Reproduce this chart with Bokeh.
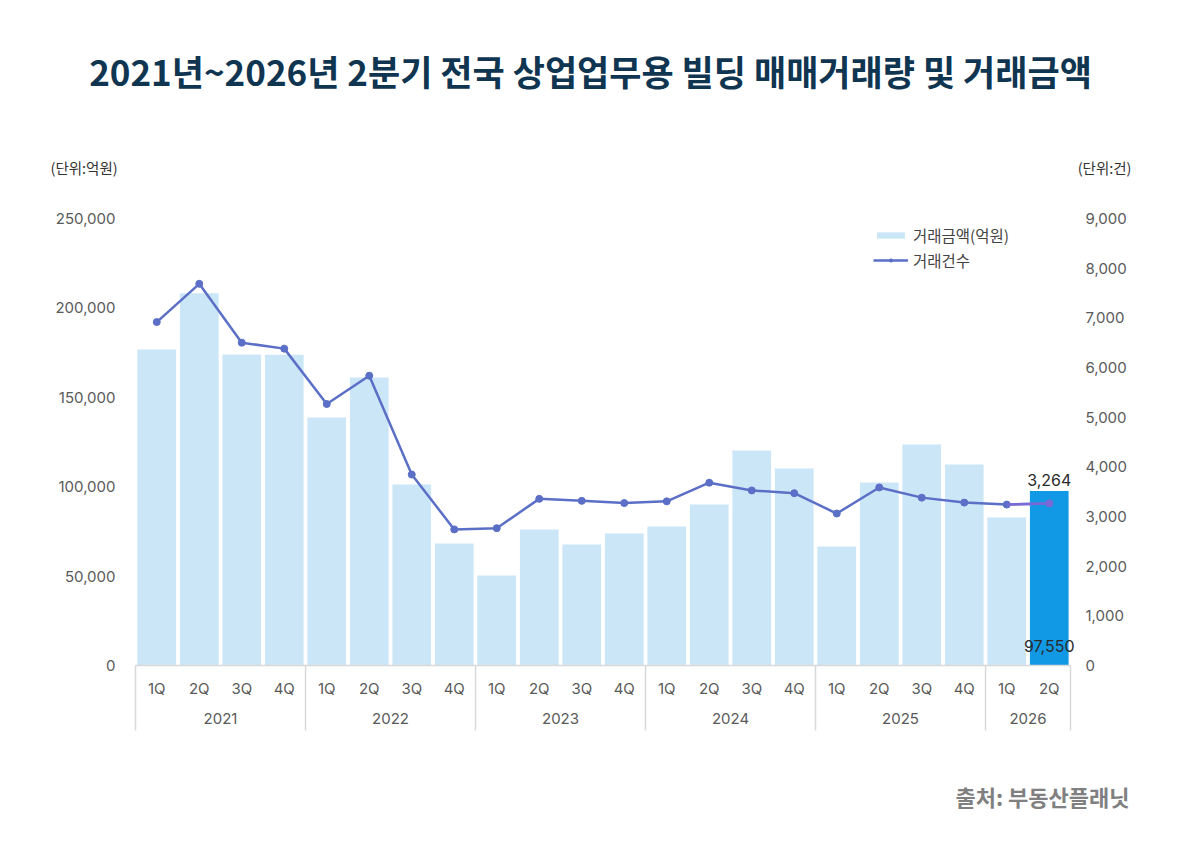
from bokeh.plotting import figure
from bokeh.layouts import column
from bokeh.models import (FactorRange, Range1d, LinearAxis, FixedTicker, NumeralTickFormatter,
                          Legend, LegendItem, ColumnDataSource)
from bokeh.core.properties import value
from bokeh.embed import file_html
from bokeh.resources import INLINE

# ---------------- data ----------------
years = ["2021", "2022", "2023", "2024", "2025", "2026"]
quarters = [["1Q", "2Q", "3Q", "4Q"]] * 5 + [["1Q", "2Q"]]
amount = [176700, 208200, 173900, 173800,
          138700, 161100, 101200, 68200,
          50300, 76000, 67700, 73800,
          77700, 90000, 120200, 110200,
          66600, 102300, 123600, 112400,
          82800, 97550]
count = [6915, 7685, 6500, 6380,
         5265, 5835, 3845, 2740,
         2765, 3355, 3315, 3270,
         3305, 3680, 3525, 3470,
         3060, 3585, 3380, 3280,
         3240, 3264]
amount_ticks = [0, 50000, 100000, 150000, 200000, 250000]
count_ticks = [0, 1000, 2000, 3000, 4000, 5000, 6000, 7000, 8000, 9000]
title_text = "2021년~2026년 2분기 전국 상업업무용 빌딩 매매거래량 및 거래금액"
amount_name = "거래금액(억원)"
count_name = "거래건수"
left_unit = "(단위:억원)"
right_unit = "(단위:건)"
source_text = "출처: 부동산플래닛"

# ---------------- layout (page pixels) ----------------
W = 1192
HEADER_H = 185
FOOTER_H = 80
BAR_LEFT, BAR_RIGHT = 135, 1070       # first / last category edges
PAD = 8                                # extra frame beyond the bars
FRAME_TOP, FRAME_BOTTOM = 200, 740
ZERO_Y, TOP_TICK_Y = 665, 218

KR = "Noto Sans CJK KR"
NUM = "Inter"
LIGHT = "#cbe6f7"
HILITE = "#1199e6"
LINE = "#5b6fc7"
LAST = "#7a6ad8"
TICK_COL = "#5a5a5a"
SEP_COL = "#d9d9d9"

factors = [(y, q) for y, qs in zip(years, quarters) for q in qs]
colors = [LIGHT] * (len(factors) - 1) + [HILITE]
cat_px = (BAR_RIGHT - BAR_LEFT) / len(factors)

left_ppu = (ZERO_Y - TOP_TICK_Y) / amount_ticks[-1]
right_ppu = (ZERO_Y - TOP_TICK_Y) / count_ticks[-1]


def blank_fig(h):
    f = figure(width=W, height=h, x_range=Range1d(0, W), y_range=Range1d(h, 0),
               min_border=0, x_axis_location=None, y_axis_location=None,
               output_backend="svg", toolbar_location=None, outline_line_color=None,
               background_fill_color="white", border_fill_color="white",
               frame_align=False)
    f.grid.visible = False
    return f


# ---------------- header ----------------
header = blank_fig(HEADER_H)
header.text(x=[590], y=[70], text=[title_text], text_align="center", text_baseline="middle",
            text_font=value(KR), text_font_size="35px", text_font_style="bold",
            text_color="#0f3551")
header.text(x=[50], y=[167], text=[left_unit], text_align="left", text_baseline="middle",
            text_font=value(KR), text_font_size="14.5px", text_color="#333333")
header.text(x=[1131], y=[167], text=[right_unit], text_align="right", text_baseline="middle",
            text_font=value(KR), text_font_size="14.5px", text_color="#333333")

# ---------------- main chart ----------------
frame_left = BAR_LEFT - PAD
frame_w = BAR_RIGHT - BAR_LEFT + 2 * PAD
p = figure(
    x_range=FactorRange(*factors, range_padding=PAD / cat_px, range_padding_units="absolute",
                        group_padding=0, factor_padding=0),
    y_range=Range1d(-(FRAME_BOTTOM - ZERO_Y) / left_ppu, (ZERO_Y - FRAME_TOP) / left_ppu),
    frame_width=frame_w,
    frame_height=FRAME_BOTTOM - FRAME_TOP,
    min_border_left=frame_left,
    min_border_right=W - frame_left - frame_w,
    min_border_top=FRAME_TOP - HEADER_H,
    min_border_bottom=30,
    x_axis_location=None,
    output_backend="svg",
    toolbar_location=None,
    outline_line_color=None,
    background_fill_color="white",
    border_fill_color="white",
    frame_align=False,
)
p.grid.visible = False

p.extra_y_ranges = {
    "count": Range1d(-(FRAME_BOTTOM - ZERO_Y) / right_ppu, (ZERO_Y - FRAME_TOP) / right_ppu),
    "px": Range1d(-(FRAME_BOTTOM - ZERO_Y), ZERO_Y - FRAME_TOP),
}

ya = p.yaxis[0]
ya.ticker = FixedTicker(ticks=amount_ticks)
ya.formatter = NumeralTickFormatter(format="0,0")

ra = LinearAxis(y_range_name="count", ticker=FixedTicker(ticks=count_ticks),
                formatter=NumeralTickFormatter(format="0,0"))
p.add_layout(ra, "right")

for ax, standoff in ((ya, 20 - PAD), (ra, 15 - PAD)):
    ax.axis_line_color = None
    ax.major_tick_line_color = None
    ax.minor_tick_line_color = None
    ax.major_tick_out = 0
    ax.major_tick_in = 0
    ax.minor_tick_out = 0
    ax.major_label_standoff = standoff
    ax.major_label_text_font = NUM
    ax.major_label_text_font_size = "15px"
    ax.major_label_text_color = TICK_COL

src = ColumnDataSource(dict(x=factors, amount=amount, count=count, color=colors))

bars = p.vbar(x="x", top="amount", bottom=0, width=0.91, source=src,
              fill_color="color", line_color=None)

line = p.line(x="x", y="count", source=src, y_range_name="count",
              line_color=LINE, line_width=2.5)
dots = p.scatter(x="x", y="count", source=src, y_range_name="count",
                 size=7, fill_color=LINE, line_color=LINE)
p.line(x=factors[-2:], y=count[-2:], y_range_name="count", line_color=LAST, line_width=2.5)
p.scatter(x=factors[-1:], y=count[-1:], y_range_name="count", size=7,
          fill_color=LAST, line_color=LAST)

# baseline and category separators
first_edge = (years[0], quarters[0][0], -0.5)
last_edge = (years[-1], quarters[-1][-1], 0.5)
p.segment(x0=[first_edge], x1=[last_edge], y0=[0], y1=[0], y_range_name="px",
          line_color=SEP_COL, line_width=1.5)
sep_x = [(y, qs[0], -0.5) for y, qs in zip(years, quarters)] + [last_edge]
p.segment(x0=sep_x, x1=sep_x, y0=[0] * len(sep_x), y1=[-65] * len(sep_x),
          y_range_name="px", line_color=SEP_COL, line_width=1.5)

# category labels
p.text(x=factors, y=[-23] * len(factors), text=[q for _, q in factors], y_range_name="px",
       text_align="center", text_baseline="middle", text_font=value(NUM),
       text_font_size="15px", text_color=TICK_COL)
p.text(x=years, y=[-53] * len(years), text=years, y_range_name="px",
       text_align="center", text_baseline="middle", text_font=value(NUM),
       text_font_size="15px", text_color=TICK_COL)

# value labels for the latest quarter
p.text(x=factors[-1:], y=count[-1:], text=[f"{count[-1]:,}"], y_range_name="count",
       y_offset=-23, text_align="center", text_baseline="middle", text_font=value(NUM),
       text_font_size="16px", text_color="#2a2a2a")
p.text(x=factors[-1:], y=[0], text=[f"{amount[-1]:,}"],
       y_offset=-20, text_align="center", text_baseline="middle", text_font=value(NUM),
       text_font_size="16px", text_color="#2a2a2a")

legend = Legend(
    items=[LegendItem(label=amount_name, renderers=[bars], index=0),
           LegendItem(label=count_name, renderers=[line, dots])],
    location=(873 - frame_left, FRAME_BOTTOM - 271),
    glyph_width=35, glyph_height=8, label_standoff=5, spacing=3,
    padding=0, margin=0, border_line_alpha=0, background_fill_alpha=0,
    label_text_font=KR, label_text_font_size="15.5px", label_text_color="#444444",
    label_height=20,
)
p.add_layout(legend, "center")

# ---------------- footer ----------------
footer = blank_fig(FOOTER_H)
footer_top = FRAME_BOTTOM + 30
footer.text(x=[1129], y=[795 - footer_top], text=[source_text], text_align="right",
            text_baseline="middle", text_font=value(KR), text_font_size="22px",
            text_font_style="bold", text_color="#808080")

layout = column(header, p, footer, spacing=0)
open("out.html", "w").write(file_html(layout, INLINE))
